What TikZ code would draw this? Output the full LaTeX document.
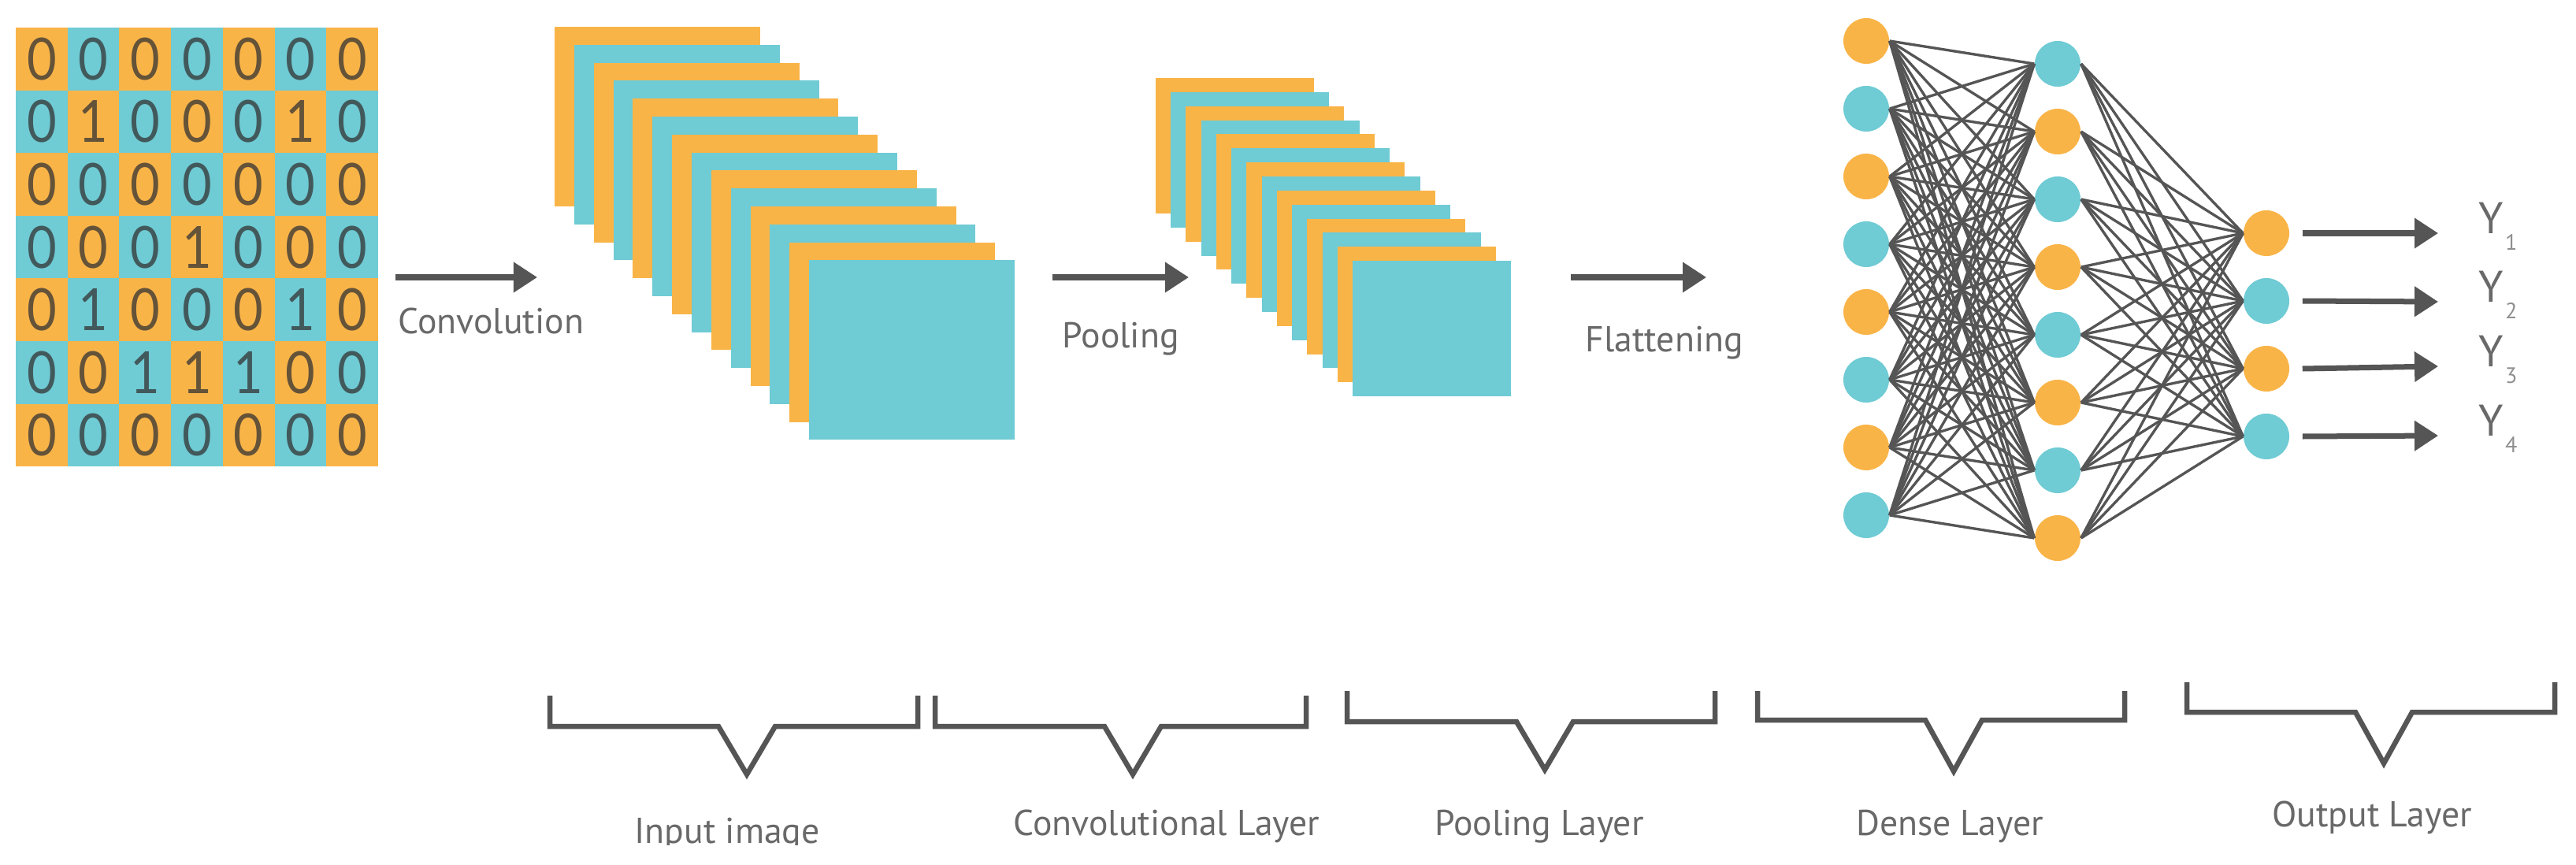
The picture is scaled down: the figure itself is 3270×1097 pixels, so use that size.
\documentclass[tikz,border=0pt]{standalone}
\usepackage{fontspec}
\setmainfont{PT Sans}
\newfontfamily\digitfont{Lato}
\usetikzlibrary{arrows.meta}
\definecolor{cOr}{RGB}{249,180,72}
\definecolor{cTe}{RGB}{111,203,212}
\definecolor{ink}{RGB}{85,85,85}
\definecolor{lbl}{RGB}{105,105,105}
\newcommand{\mybrace}[6]{\draw[brk] (#1,#3) -- (#1,#4) -- (#5-36,#4) -- (#5,#6) -- (#5+36,#4) -- (#2,#4) -- (#2,#3);}
\begin{document}
\begin{tikzpicture}[x=0.01cm,y=-0.01cm,
  arr/.style={draw=ink,line width=0.07cm,-{Triangle[length=0.3cm,width=0.37cm]}},
  edge/.style={draw=ink,line width=0.95pt},
  neuron/.style={circle,inner sep=0pt,minimum size=0.58cm},
  lab/.style={text=lbl,font=\fontsize{13}{15}\selectfont,inner sep=0pt},
  ylab/.style={text=lbl,font=\fontsize{16}{18}\selectfont,inner sep=0pt,anchor=base west},
  digit/.style={text=black!80,text opacity=0.75,font=\digitfont\fontsize{21}{23}\selectfont,inner sep=0pt,xscale=0.88},
  brk/.style={draw=ink,line width=0.065cm,line join=miter},
]
\useasboundingbox (0,0) rectangle (3270,1097);
\fill[white] (0,0) rectangle (3270,1097);

% input grid
\foreach \v [count=\k from 0] in {0,0,0,0,0,0,0, 0,1,0,0,0,1,0, 0,0,0,0,0,0,0, 0,0,0,1,0,0,0, 0,1,0,0,0,1,0, 0,0,1,1,1,0,0, 0,0,0,0,0,0,0}{
  \pgfmathtruncatemacro{\r}{int(\k/7)}
  \pgfmathtruncatemacro{\c}{mod(\k,7)}
  \pgfmathtruncatemacro{\p}{mod(\r+\c,2)}
  \ifnum\p=0 \def\col{cOr}\else\def\col{cTe}\fi
  \fill[\col] (20+65.7*\c,35+79.6*\r) rectangle ++(65.7,79.6);
  \node[digit] (g\k) at (20+65.7*\c+32.85,35+79.6*\r+39.8) {\v};
}

% convolution stack
\foreach \i in {0,...,13}{
  \pgfmathtruncatemacro{\p}{mod(\i,2)}
  \ifnum\p=0 \def\col{cOr}\else\def\col{cTe}\fi
  \fill[\col] (704+24.85*\i,34+22.8*\i) rectangle ++(261,228);
}
% pooling stack
\foreach \i in {0,...,13}{
  \pgfmathtruncatemacro{\p}{mod(\i,2)}
  \ifnum\p=0 \def\col{cOr}\else\def\col{cTe}\fi
  \fill[\col] (1467+19.23*\i,99+17.85*\i) rectangle ++(201,172);
}

% process arrows
\coordinate (cvS) at (502,352); \coordinate (cvE) at (682,352);
\coordinate (plS) at (1336,352); \coordinate (plE) at (1509,352);
\coordinate (flS) at (1994,352); \coordinate (flE) at (2166,352);
\draw[arr] (cvS) -- (cvE);
\draw[arr] (plS) -- (plE);
\draw[arr] (flS) -- (flE);
\node[lab,anchor=base west] (lConv) at (505,423) {Convolution};
\node[lab,anchor=base west] (lPool) at (1348,441) {Pooling};
\node[lab,anchor=base west] (lFlat) at (2012,446) {Flattening};

% neural network
\foreach \i in {0,...,7}{
  \pgfmathtruncatemacro{\p}{mod(\i,2)}
  \ifnum\p=0 \def\ca{cOr}\def\cb{cTe}\else\def\ca{cTe}\def\cb{cOr}\fi
  \node[neuron,fill=\ca] (a\i) at (2369,52+86*\i) {};
  \node[neuron,fill=\cb] (b\i) at (2612,81+86*\i) {};
}
\foreach \i in {0,...,3}{
  \pgfmathtruncatemacro{\p}{mod(\i,2)}
  \ifnum\p=0 \def\ca{cOr}\else\def\ca{cTe}\fi
  \node[neuron,fill=\ca] (o\i) at (2877,296+86*\i) {};
}
\foreach \i in {0,...,7}{
  \foreach \j in {0,...,7}{ \draw[edge] (a\i.east) -- (b\j.west); }
  \foreach \j in {0,...,3}{ \draw[edge] (b\i.east) -- (o\j.west); }
}

% outputs
\foreach \i/\yy in {0/296,1/383,2/465,3/553}{
  \pgfmathtruncatemacro{\n}{\i+1}
  \coordinate (t\i) at (3095,\yy);
  \draw[arr] ([xshift=0.16cm]o\i.east) -- (t\i);
  \node[ylab] (y\i) at (3146,\yy) {Y\hspace{0.02cm}\raisebox{-0.21cm}{\color{lbl!75}\fontsize{8}{9}\selectfont\n}};
}

% brackets
\mybrace{698}{1165}{883}{922}{948}{983}
\mybrace{1187}{1658}{883}{922}{1438}{983}
\mybrace{1710}{2177}{877}{916}{1961}{977}
\mybrace{2231}{2697}{877}{914}{2480}{979}
\mybrace{2776}{3243}{866}{904}{3026}{969}

\begin{scope}
\clip (0,0) rectangle (3270,1072);
\node[lab,anchor=base] (lIn) at (923,1070) {Input image};
\end{scope}
\node[lab,anchor=base] (lCL) at (1481,1060) {Convolutional Layer};
\node[lab,anchor=base] (lPL) at (1954,1060) {Pooling Layer};
\node[lab,anchor=base] (lDL) at (2475,1060) {Dense Layer};
\node[lab,anchor=base] (lOL) at (3011,1049) {Output Layer};
\end{tikzpicture}
\end{document}
